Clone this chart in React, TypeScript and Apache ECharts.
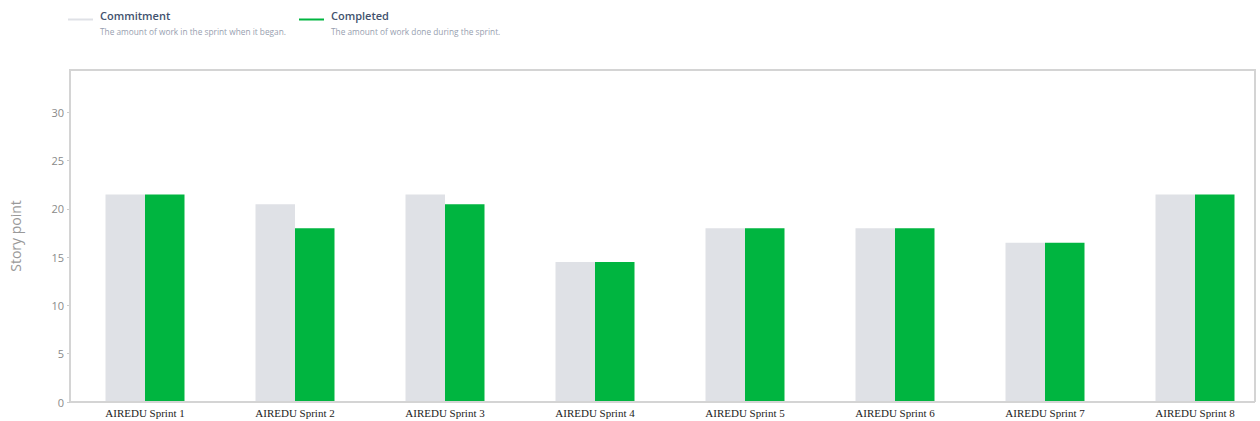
import React, { useEffect, useRef } from "react";
import * as echarts from "echarts";

const categories = [
  "AIREDU Sprint 1",
  "AIREDU Sprint 2",
  "AIREDU Sprint 3",
  "AIREDU Sprint 4",
  "AIREDU Sprint 5",
  "AIREDU Sprint 6",
  "AIREDU Sprint 7",
  "AIREDU Sprint 8",
];
const commitment = [21.5, 20.5, 21.5, 14.5, 18, 18, 16.5, 21.5];
const completed = [21.5, 18, 20.5, 14.5, 18, 18, 16.5, 21.5];

const legendItems = [
  { name: "Commitment", desc: "The amount of work in the sprint when it began.", color: "#dfe1e6", x: 68 },
  { name: "Completed", desc: "The amount of work done during the sprint.", color: "#00b540", x: 299 },
];

export default function App() {
  const ref = useRef<HTMLDivElement>(null);
  useEffect(() => {
    document.body.style.margin = "0";
    const chart = echarts.init(ref.current!, null, { renderer: "svg" });
    const graphics: any[] = [];
    legendItems.forEach((it) => {
      graphics.push({
        type: "line",
        shape: { x1: it.x, y1: 19.5, x2: it.x + 25, y2: 19.5 },
        style: { stroke: it.color, lineWidth: 2 },
      });
      graphics.push({
        type: "text",
        x: it.x + 32,
        y: 15,
        style: {
          text: it.name,
          font: "600 11px 'Open Sans', sans-serif",
          fill: "#42526e",
          textVerticalAlign: "middle",
        },
      });
      graphics.push({
        type: "text",
        x: it.x + 32,
        y: 31,
        style: {
          text: it.desc,
          font: "8.3px 'Open Sans', sans-serif",
          fill: "#97a0af",
          textVerticalAlign: "middle",
        },
      });
    });
    // chart frame
    graphics.push({
      type: "polyline",
      shape: { points: [[70, 402], [70, 70], [1255, 70], [1255, 402]] },
      style: { stroke: "#d4d4d4", lineWidth: 2, fill: null },
      z: 10,
    });
    graphics.push({
      type: "line",
      shape: { x1: 70, y1: 402, x2: 1255, y2: 402 },
      style: { stroke: "#d4d4d4", lineWidth: 2 },
      z: 10,
    });
    chart.setOption({
      animation: false,
      graphic: graphics,
      grid: {
        left: 70,
        width: 1200,
        top: 70,
        bottom: 19,
        show: false,
      },
      xAxis: {
        type: "category",
        data: categories,
        axisLine: { show: false },
        axisTick: { show: false },
        axisLabel: {
          color: "#222",
          fontFamily: "'Liberation Serif', serif",
          fontSize: 11,
          margin: 5,
        },
      },
      yAxis: {
        type: "value",
        min: 0,
        max: 34.4,
        interval: 5,
        name: "Story point",
        nameLocation: "middle",
        nameGap: 48,
        nameTextStyle: { color: "#999", fontSize: 14, fontFamily: "'Open Sans', sans-serif" },
        axisLine: { show: false },
        axisTick: { show: true, length: 3, lineStyle: { color: "#ccc" } },
        splitLine: { show: false },
        axisLabel: {
          color: "#8a8a8a",
          fontSize: 11,
          fontFamily: "'Open Sans', sans-serif",
          margin: 6,
          showMaxLabel: false,
          formatter: (v: number) => (v % 5 === 0 ? String(v) : ""),
        },
      },
      series: [
        {
          name: "Commitment",
          type: "bar",
          data: commitment,
          barWidth: 39.5,
          barGap: "0%",
          itemStyle: { color: "#dfe1e6" },
        },
        {
          name: "Completed",
          type: "bar",
          data: completed,
          barWidth: 39.5,
          barGap: "0%",
          itemStyle: { color: "#00b540" },
        },
      ],
    });
    return () => chart.dispose();
  }, []);
  return (
    <div style={{ width: 1260, height: 421, overflow: "hidden" }}>
      <div ref={ref} style={{ width: 1290, height: 421 }} />
    </div>
  );
}
